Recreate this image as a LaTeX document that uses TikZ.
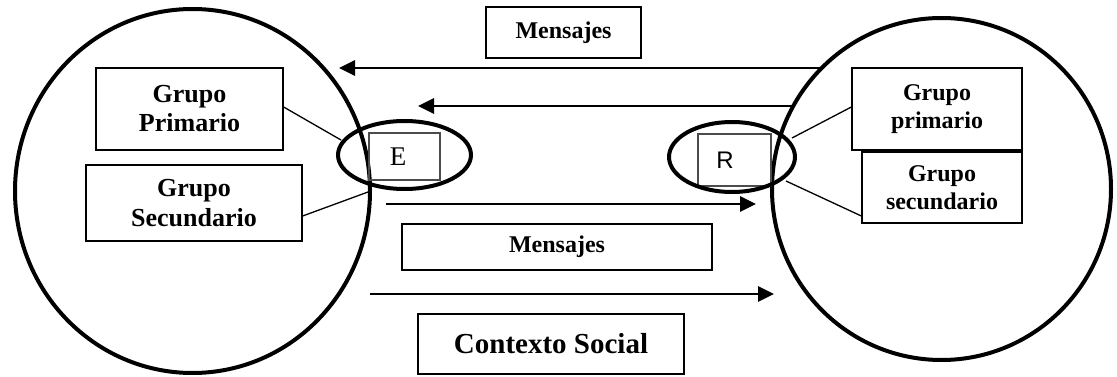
\documentclass[tikz,border=0pt]{standalone}
\usepackage{fontspec}
\setmainfont{Liberation Serif}
\newfontfamily\sansR{Liberation Sans}
\usetikzlibrary{shapes.geometric,arrows.meta}
\tikzset{
  bigell/.style={draw, ellipse, line width=4pt, inner sep=0pt},
  smallell/.style={draw, ellipse, line width=4pt, inner sep=0pt},
  box/.style={draw, line width=1.3pt, inner sep=0pt, align=center, font=\fontsize{24pt}{28pt}\selectfont\bfseries},
  letterbox/.style={draw=black!70, line width=1.3pt, inner sep=0pt},
  conn/.style={line width=1.3pt},
  arr/.style={line width=2.8pt, -{Triangle[length=16pt,width=15pt]}},
}
\begin{document}
\begin{tikzpicture}[x=1pt,y=-1pt]
\useasboundingbox (0,0) rectangle (1117,377);
% big ellipses
\node[bigell, minimum width=355pt, minimum height=364pt] (L) at (192.5,191) {};
\node[bigell, minimum width=339pt, minimum height=342pt] (Rg) at (941.5,189) {};
% boxes left
\node[box, minimum width=187pt, minimum height=82pt, font=\fontsize{26pt}{29pt}\selectfont\bfseries] (gpL) at (189.5,109) {Grupo\\Primario};
\node[box, minimum width=216pt, minimum height=76pt, font=\fontsize{26pt}{30pt}\selectfont\bfseries] (gsL) at (194,203) {Grupo\\Secundario};
% boxes right
\node[box, minimum width=170pt, minimum height=82pt] (gpR) at (937,109) {Grupo\\primario};
\node[box, minimum width=160pt, minimum height=71pt] (gsR) at (942,187.5) {Grupo\\secundario};
% E and R
\node[letterbox, minimum width=71pt, minimum height=47pt] (Ebox) at (404.5,156.5) {};
\node[font=\fontsize{27pt}{30pt}\selectfont] (Et) at (398,157) {E};
\node[smallell, minimum width=133pt, minimum height=68pt] (Eell) at (404.5,155) {};
\node[letterbox, minimum width=73pt, minimum height=52pt] (Rbox) at (734.5,160) {};
\node[font=\fontsize{24pt}{28pt}\sansR] (Rt) at (725,160) {R};
\node[smallell, minimum width=126pt, minimum height=70pt] (Rell) at (732,157) {};
% message boxes
\node[box, minimum width=155pt, minimum height=51pt] (m1) at (563.5,32.5) {Mensajes};
\node[box, minimum width=310pt, minimum height=46pt] (m2) at (557,247) {Mensajes};
\node[box, minimum width=266pt, minimum height=60pt, font=\fontsize{29pt}{32pt}\selectfont\bfseries] (ctx) at (551,344) {Contexto Social};
% connector end points
\coordinate (gpLe) at (341,140);
\coordinate (gsLe) at (368,192);
\coordinate (gpRe) at (792,138);
\coordinate (gsRe) at (786,181);
\draw[conn] (gpL.east |- 0,107) -- (gpLe);
\draw[conn] (gsL.east |- 0,216) -- (gsLe);
\draw[conn] (gpR.west |- 0,107) -- (gpRe);
\draw[conn] (gsR.west |- 0,216) -- (gsRe);
% arrows
\coordinate (a1s) at (822,68);  \coordinate (a1e) at (339,68);
\coordinate (a2s) at (792,106); \coordinate (a2e) at (418,106);
\coordinate (a3s) at (386,204); \coordinate (a3e) at (756,204);
\coordinate (a4s) at (370,294); \coordinate (a4e) at (774,294);
\draw[arr] (a1s) -- (a1e);
\draw[arr] (a2s) -- (a2e);
\draw[arr] (a3s) -- (a3e);
\draw[arr] (a4s) -- (a4e);
\end{tikzpicture}
\end{document}
